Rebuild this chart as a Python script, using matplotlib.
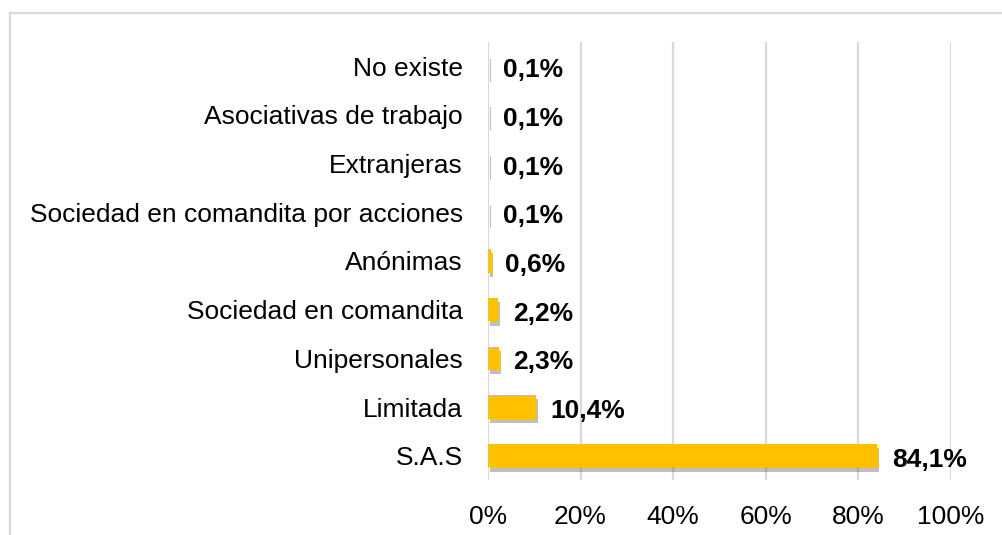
import matplotlib.pyplot as plt
import matplotlib.patheffects as pe
from matplotlib.patches import Rectangle

# Datos del grafico (de abajo hacia arriba)
categorias = ["S.A.S", "Limitada", "Unipersonales", "Sociedad en comandita",
              "Anónimas", "Sociedad en comandita por acciones", "Extranjeras",
              "Asociativas de trabajo", "No existe"]
valores = [84.1, 10.4, 2.3, 2.2, 0.6, 0.1, 0.1, 0.1, 0.1]
etiquetas = ["84,1%", "10,4%", "2,3%", "2,2%", "0,6%", "0,1%", "0,1%", "0,1%", "0,1%"]
ticks_x = [0, 20, 40, 60, 80, 100]

plt.rcParams['font.family'] = ['Liberation Sans', 'DejaVu Sans']

fig = plt.figure(figsize=(10.02, 5.35), dpi=100)
ax = fig.add_axes([0.487, 0.1028, 0.462, 0.8187])

# Marco exterior (recortado a la derecha y abajo)
marco = Rectangle((9.5 / 1002, -0.1), 1.2, 1 - 12.5 / 535 + 0.1,
                  transform=fig.transFigure, fill=False,
                  edgecolor='#D9D9D9', linewidth=1.6, clip_on=False)
fig.patches.append(marco)

y = range(len(categorias))
sombra = [pe.SimplePatchShadow(offset=(1.5, -3), shadow_rgbFace='#606060', alpha=0.4),
          pe.Normal()]
barras = ax.barh(y, valores, height=0.48, color='#FFC000', zorder=3)
for b in barras:
    b.set_path_effects(sombra)

for i, (v, t) in enumerate(zip(valores, etiquetas)):
    ax.annotate(t, xy=(v, i), xytext=(10.5, -1), textcoords='offset points',
                ha='left', va='center_baseline', fontsize=19, fontweight='bold', zorder=4)

ax.set_xlim(0, 100)
ax.set_ylim(-0.5, len(categorias) - 0.5)
ax.set_xticks(ticks_x)
ax.set_xticklabels([f"{t}%" for t in ticks_x], fontsize=19)
ax.set_yticks(list(y))
ax.set_yticklabels(categorias, fontsize=19, va='center_baseline')
ax.tick_params(axis='both', length=0)
ax.tick_params(axis='y', pad=18)
ax.tick_params(axis='x', pad=18)

ax.grid(axis='x', color='#D9D9D9', linewidth=1.6, zorder=0)
ax.set_axisbelow(True)
for s in ax.spines.values():
    s.set_visible(False)

fig.savefig("out.png", dpi=100)
